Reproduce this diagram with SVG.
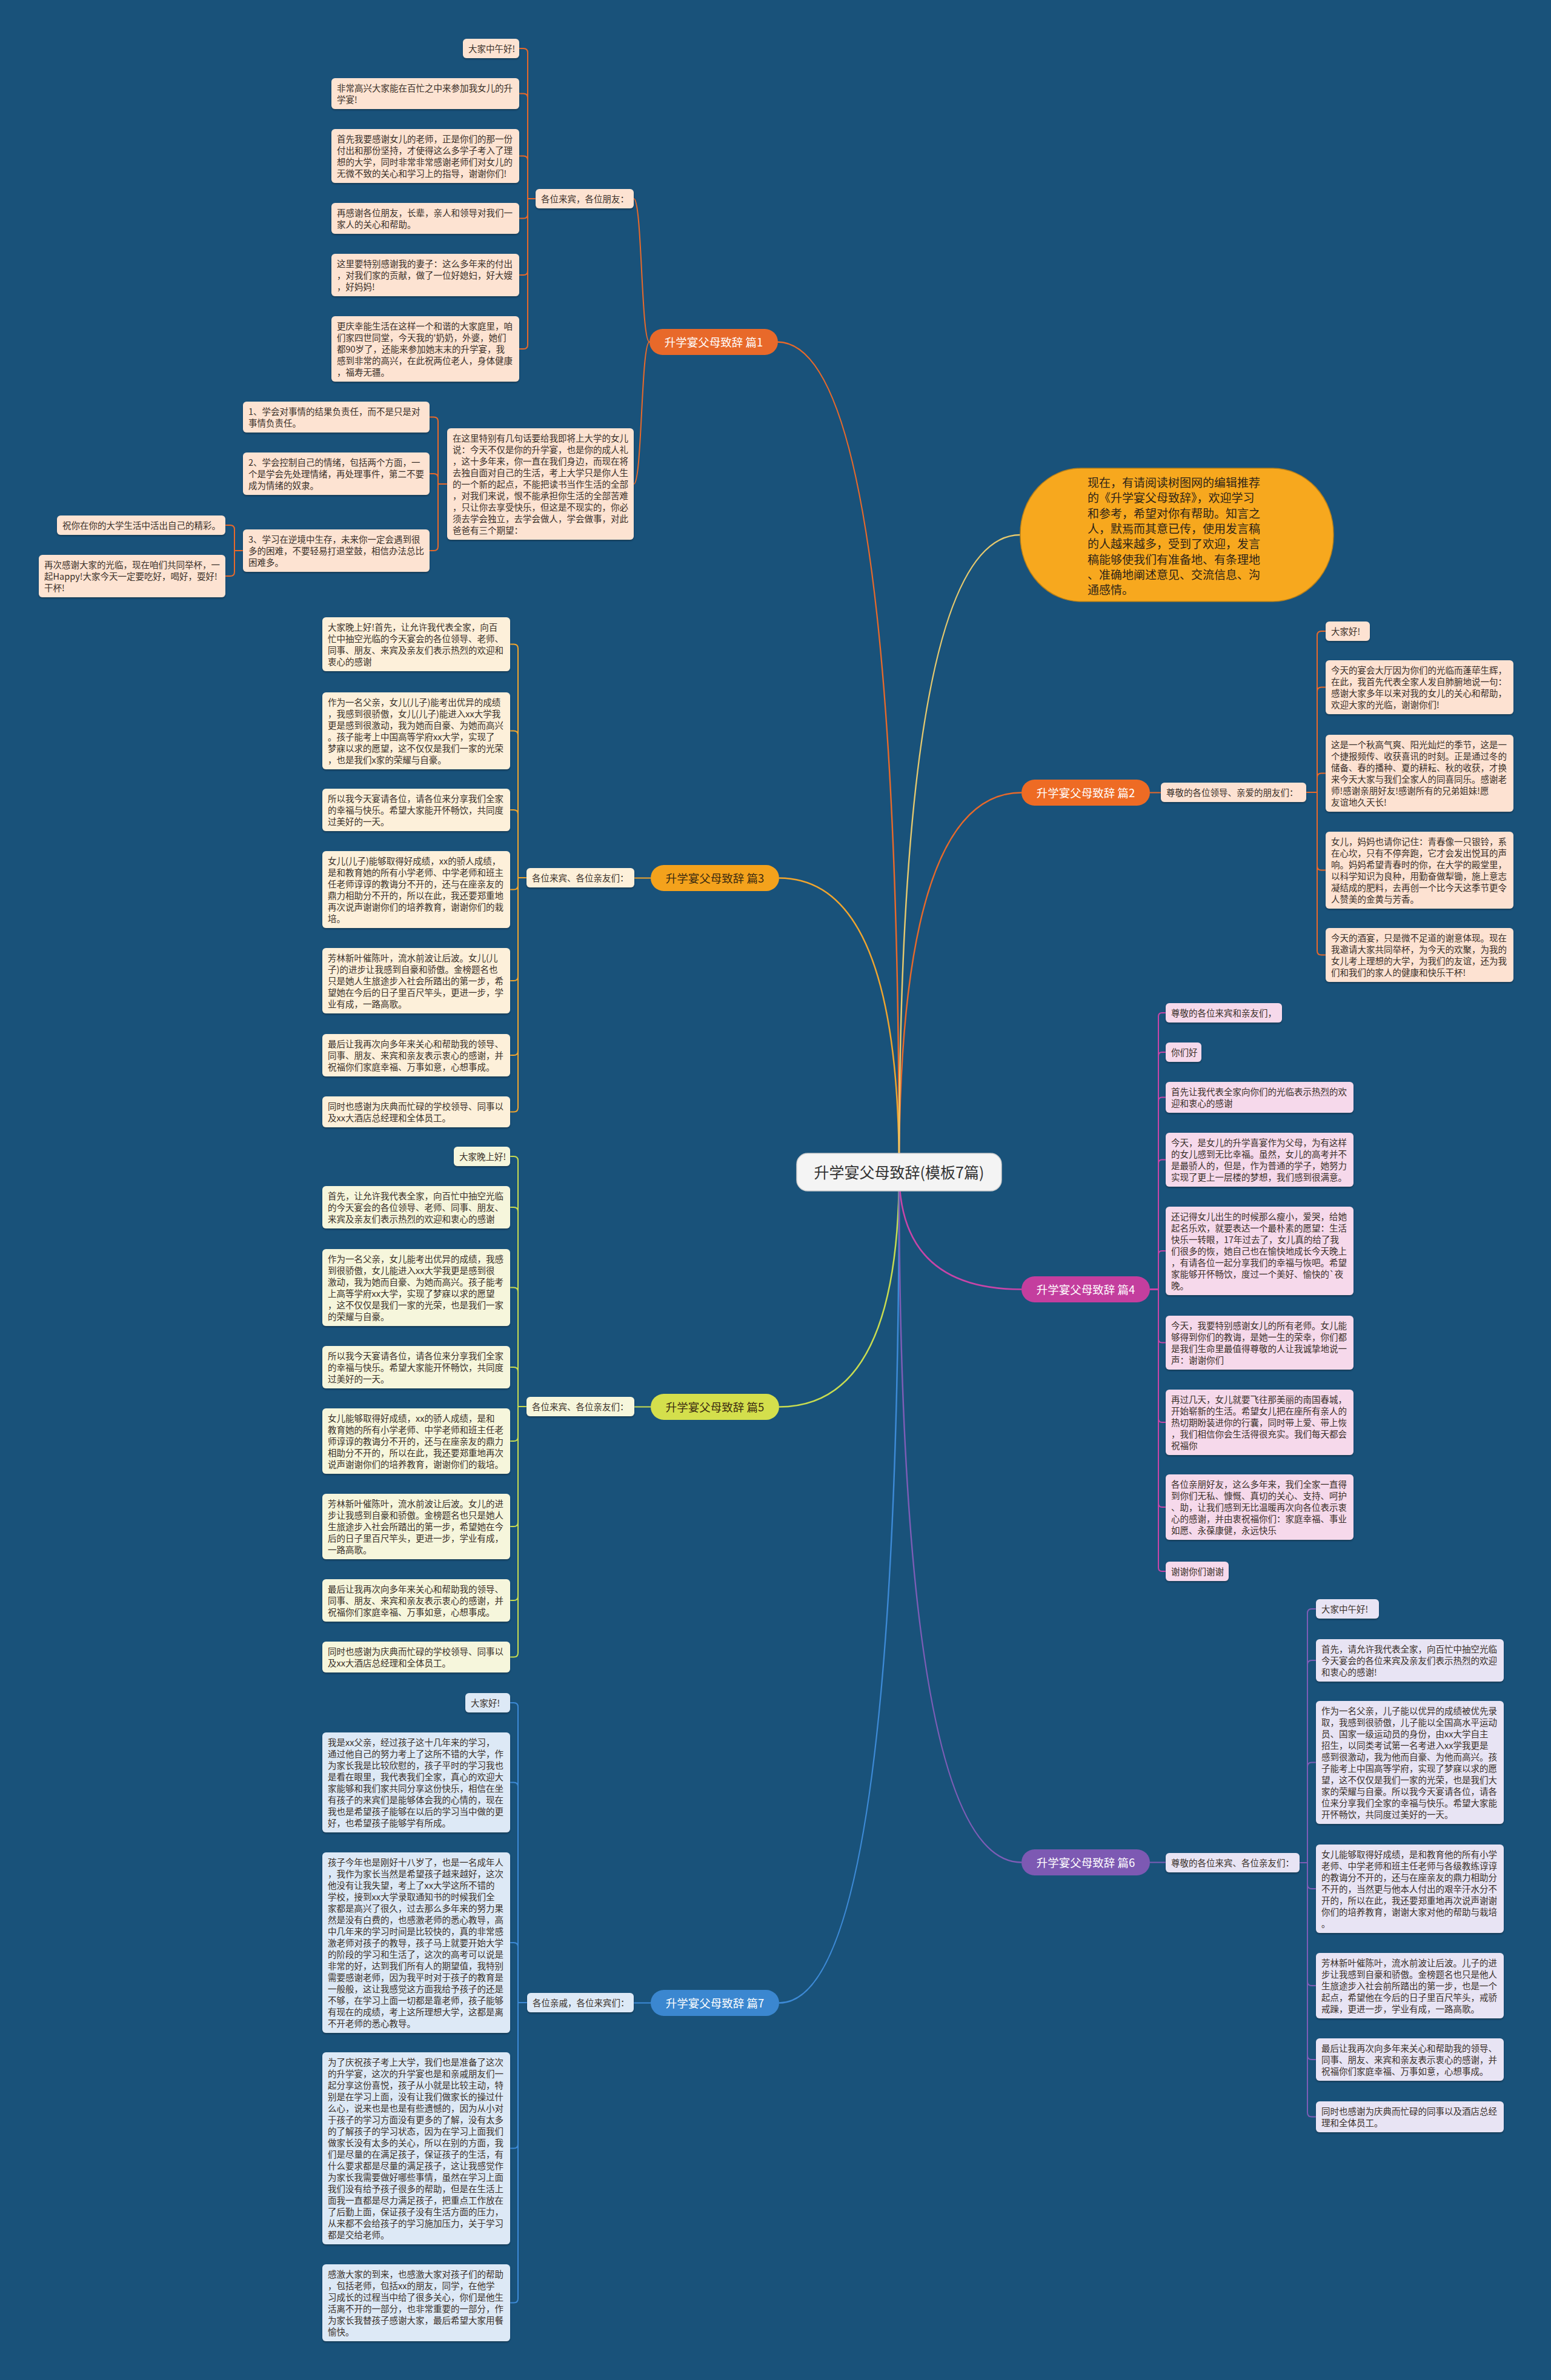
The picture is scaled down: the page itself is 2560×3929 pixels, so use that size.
<svg xmlns="http://www.w3.org/2000/svg" width="2560" height="3929" viewBox="0 0 2560 3929">
<defs>
<filter id="sh" x="-5%" y="-10%" width="110%" height="130%"><feDropShadow dx="0" dy="2" stdDeviation="1.2" flood-color="#0a2a40" flood-opacity="0.6"/></filter>
<style>
.t{font-family:"Noto Sans CJK SC","Liberation Sans",sans-serif;font-size:14.5px;fill:#3a3029}
.bt{font-family:"Noto Sans CJK SC","Liberation Sans",sans-serif;font-size:18.5px;text-anchor:middle}
.w{fill:#ffffff}.d{fill:#3a2a10}
rect.box{filter:url(#sh)}
.f1 rect{fill:#fde3d2}.f3 rect{fill:#fdf0da}.f5 rect{fill:#f6f6dc}.f7 rect{fill:#dde9f6}
.f2 rect{fill:#fde2d2}.f4 rect{fill:#f6d9eb}.f6 rect{fill:#e8e4f4}
#links path{fill:none;stroke-width:2}
#links .m{stroke-width:2.5}
.c1{stroke:#e8692a}.c3{stroke:#f0a52e}.c5{stroke:#c8dc50}.c7{stroke:#3d8ad6}
.c2{stroke:#e8692a}.c4{stroke:#c845a8}.c6{stroke:#7d5db6}.cb{stroke:#e6c96e}
</style>
</defs>
<rect x="0" y="0" width="2560" height="3929" fill="#19527a"/>

<g id="links">
<path class="m c1" d="M1484 1935Q1484 564.5 1283 564.5"/>
<path class="m c3" d="M1484 1935Q1484 1449.5 1286 1449.5"/>
<path class="m c5" d="M1484 1935Q1484 2322.5 1286 2322.5"/>
<path class="m c7" d="M1484 1935Q1484 3306.5 1286 3306.5"/>
<path class="m c2" d="M1484 1935Q1484 1308.5 1686 1308.5"/>
<path class="m c4" d="M1484 1935Q1484 2128.5 1686 2128.5"/>
<path class="m c6" d="M1484 1935Q1484 3074.5 1686 3074.5"/>
<path class="m cb" d="M1484 1935Q1484 883 1684 883"/>
<!-- branch 1 -->
<path class="c1" d="M1072 564.5C1058 564.5 1060 328 1046 328"/>
<path class="c1" d="M1072 564.5C1058 564.5 1060 799 1046 799"/>
<path class="c1" d="M884 328H871V87Q871 80 864 80H857"/>
<path class="c1" d="M884 328H871V161.5Q871 154.5 864 154.5H857"/>
<path class="c1" d="M884 328H871V264.5Q871 257.5 864 257.5H857"/>
<path class="c1" d="M884 328H871V353.5Q871 360.5 864 360.5H857"/>
<path class="c1" d="M884 328H871V447Q871 454 864 454H857"/>
<path class="c1" d="M884 328H871V569Q871 576 864 576H857"/>
<path class="c1" d="M738 799H723V695.5Q723 688.5 716 688.5H709"/>
<path class="c1" d="M738 799H723V789Q723 782 716 782H709"/>
<path class="c1" d="M738 799H723V902Q723 909 716 909H709"/>
<path class="c1" d="M401 909H387V874Q387 867 380 867H372"/>
<path class="c1" d="M401 909H387V944Q387 951 380 951H372"/>
<!-- branch 3 -->
<path class="c3" d="M1074 1449.5H1047"/>
<path class="c3" d="M869 1449H855V1070.5Q855 1063.5 848 1063.5H842"/>
<path class="c3" d="M869 1449H855V1213.5Q855 1206.5 848 1206.5H842"/>
<path class="c3" d="M869 1449H855V1344Q855 1337 848 1337H842"/>
<path class="c3" d="M869 1449H855V1461.5Q855 1468.5 848 1468.5H842"/>
<path class="c3" d="M869 1449H855V1612Q855 1619 848 1619H842"/>
<path class="c3" d="M869 1449H855V1735Q855 1742 848 1742H842"/>
<path class="c3" d="M869 1449H855V1828.5Q855 1835.5 848 1835.5H842"/>
<!-- branch 5 -->
<path class="c5" d="M1074 2322.5H1047"/>
<path class="c5" d="M869 2322H855V1916Q855 1909 848 1909H842"/>
<path class="c5" d="M869 2322H855V2000Q855 1993 848 1993H842"/>
<path class="c5" d="M869 2322H855V2132.5Q855 2125.5 848 2125.5H842"/>
<path class="c5" d="M869 2322H855V2264Q855 2257 848 2257H842"/>
<path class="c5" d="M869 2322H855V2372Q855 2379 848 2379H842"/>
<path class="c5" d="M869 2322H855V2513Q855 2520 848 2520H842"/>
<path class="c5" d="M869 2322H855V2635Q855 2642 848 2642H842"/>
<path class="c5" d="M869 2322H855V2728.5Q855 2735.5 848 2735.5H842"/>
<!-- branch 7 -->
<path class="c7" d="M1074 3306.5H1046"/>
<path class="c7" d="M870 3306H855V2818Q855 2811 848 2811H842"/>
<path class="c7" d="M870 3306H855V2949.5Q855 2942.5 848 2942.5H842"/>
<path class="c7" d="M870 3306H855V3214Q855 3207 848 3207H842"/>
<path class="c7" d="M870 3306H855V3539.5Q855 3546.5 848 3546.5H842"/>
<path class="c7" d="M870 3306H855V3794.5Q855 3801.5 848 3801.5H842"/>
<!-- branch 2 -->
<path class="c2" d="M1898 1308.5H1916"/>
<path class="c2" d="M2156 1308H2174V1049Q2174 1042 2181 1042H2188"/>
<path class="c2" d="M2156 1308H2174V1141.5Q2174 1134.5 2181 1134.5H2188"/>
<path class="c2" d="M2156 1308H2174V1283.5Q2174 1276.5 2181 1276.5H2188"/>
<path class="c2" d="M2156 1308H2174V1429.5Q2174 1436.5 2181 1436.5H2188"/>
<path class="c2" d="M2156 1308H2174V1569.5Q2174 1576.5 2181 1576.5H2188"/>
<!-- branch 4 -->
<path class="c4" d="M1898 2128.5H1912V1678Q1912 1672 1918 1672H1924"/>
<path class="c4" d="M1898 2128.5H1912V1743Q1912 1737 1918 1737H1924"/>
<path class="c4" d="M1898 2128.5H1912V1817.5Q1912 1811.5 1918 1811.5H1924"/>
<path class="c4" d="M1898 2128.5H1912V1920.5Q1912 1914.5 1918 1914.5H1924"/>
<path class="c4" d="M1898 2128.5H1912V2071Q1912 2065 1918 2065H1924"/>
<path class="c4" d="M1898 2128.5H1912V2210.5Q1912 2216.5 1918 2216.5H1924"/>
<path class="c4" d="M1898 2128.5H1912V2342Q1912 2348 1918 2348H1924"/>
<path class="c4" d="M1898 2128.5H1912V2482Q1912 2488 1918 2488H1924"/>
<path class="c4" d="M1898 2128.5H1912V2588Q1912 2594 1918 2594H1924"/>
<!-- branch 6 -->
<path class="c6" d="M1898 3074.5H1924"/>
<path class="c6" d="M2145 3075H2158V2663Q2158 2656 2165 2656H2172"/>
<path class="c6" d="M2145 3075H2158V2748Q2158 2741 2165 2741H2172"/>
<path class="c6" d="M2145 3075H2158V2916.5Q2158 2909.5 2165 2909.5H2172"/>
<path class="c6" d="M2145 3075H2158V3111Q2158 3118 2165 3118H2172"/>
<path class="c6" d="M2145 3075H2158V3271Q2158 3278 2165 3278H2172"/>
<path class="c6" d="M2145 3075H2158V3393Q2158 3400 2165 3400H2172"/>
<path class="c6" d="M2145 3075H2158V3487.5Q2158 3494.5 2165 3494.5H2172"/>
</g>

<g id="center">
<rect x="1315" y="1904" width="338" height="62" rx="18" fill="#f4f4f4" stroke="#cfcfcf" stroke-width="1.5"/>
<text x="1484" y="1944.5" text-anchor="middle" font-family="Noto Sans CJK SC, Liberation Sans, sans-serif" font-size="25" fill="#333">升学宴父母致辞(模板7篇)</text>
</g>

<g id="bubble">
<rect x="1684" y="773" width="517" height="220" rx="100" ry="108" fill="#f7a81e" stroke="#b8801a" stroke-width="1.5"/>
<text font-family="Noto Sans CJK SC, Liberation Sans, sans-serif" font-size="19" fill="#2e2418">
<tspan x="1795" y="804">现在，有请阅读树图网的编辑推荐</tspan>
<tspan x="1795" dy="25.3">的《升学宴父母致辞》，欢迎学习</tspan>
<tspan x="1795" dy="25.3">和参考，希望对你有帮助。知言之</tspan>
<tspan x="1795" dy="25.3">人，默焉而其意已传，使用发言稿</tspan>
<tspan x="1795" dy="25.3">的人越来越多，受到了欢迎，发言</tspan>
<tspan x="1795" dy="25.3">稿能够使我们有准备地、有条理地</tspan>
<tspan x="1795" dy="25.3">、准确地阐述意见、交流信息、沟</tspan>
<tspan x="1795" dy="25.3">通感情。</tspan>
</text>
</g>

<!-- ===== Branch 1 ===== -->
<g id="b1"><rect x="1072" y="543" width="212" height="43" rx="21.5" fill="#e8692a"/><text class="bt w" x="1178" y="571.5">升学宴父母致辞 篇1</text></g>
<g id="b1-s1" class="f1"><rect class="box" x="884" y="312" width="162" height="32" rx="6"/><text class="t" x="893" y="333.5">各位来宾，各位朋友：</text></g>
<g id="b1-a1" class="f1"><rect class="box" x="764" y="64" width="93" height="32" rx="6"/><text class="t" x="773" y="85.5">大家中午好!</text></g>
<g id="b1-a2" class="f1"><rect class="box" x="547" y="129" width="310" height="51" rx="6"/><text class="t" x="556" y="150.5"><tspan>非常高兴大家能在百忙之中来参加我女儿的升</tspan><tspan x="556" dy="19">学宴!</tspan></text></g>
<g id="b1-a3" class="f1"><rect class="box" x="547" y="213" width="310" height="89" rx="6"/><text class="t" x="556" y="234.5"><tspan>首先我要感谢女儿的老师，正是你们的那一份</tspan><tspan x="556" dy="19">付出和那份坚持，才使得这么多学子考入了理</tspan><tspan x="556" dy="19">想的大学，同时非常非常感谢老师们对女儿的</tspan><tspan x="556" dy="19">无微不致的关心和学习上的指导，谢谢你们!</tspan></text></g>
<g id="b1-a4" class="f1"><rect class="box" x="547" y="335" width="310" height="51" rx="6"/><text class="t" x="556" y="356.5"><tspan>再感谢各位朋友，长辈，亲人和领导对我们一</tspan><tspan x="556" dy="19">家人的关心和帮助。</tspan></text></g>
<g id="b1-a5" class="f1"><rect class="box" x="547" y="419" width="310" height="70" rx="6"/><text class="t" x="556" y="440.5"><tspan>这里要特别感谢我的妻子：这么多年来的付出</tspan><tspan x="556" dy="19">，对我们家的贡献，做了一位好媳妇，好大嫂</tspan><tspan x="556" dy="19">，好妈妈!</tspan></text></g>
<g id="b1-a6" class="f1"><rect class="box" x="547" y="522" width="310" height="108" rx="6"/><text class="t" x="556" y="543.5"><tspan>更庆幸能生活在这样一个和谐的大家庭里，咱</tspan><tspan x="556" dy="19">们家四世同堂，今天我的'奶奶，外婆，她们</tspan><tspan x="556" dy="19">都90岁了，还能来参加她末末的升学宴，我</tspan><tspan x="556" dy="19">感到非常的高兴，在此祝两位老人，身体健康</tspan><tspan x="556" dy="19">，福寿无疆。</tspan></text></g>
<g id="b1-s2" class="f1"><rect class="box" x="738" y="707" width="308" height="184" rx="6"/><text class="t" x="747" y="728.5"><tspan>在这里特别有几句话要给我即将上大学的女儿</tspan><tspan x="747" dy="19">说：今天不仅是你的升学宴，也是你的成人礼</tspan><tspan x="747" dy="19">，这十多年来，你一直在我们身边，而现在将</tspan><tspan x="747" dy="19">去独自面对自己的生活，考上大学只是你人生</tspan><tspan x="747" dy="19">的一个新的起点，不能把读书当作生活的全部</tspan><tspan x="747" dy="19">，对我们来说，恨不能承担你生活的全部苦难</tspan><tspan x="747" dy="19">，只让你去享受快乐，但这是不现实的，你必</tspan><tspan x="747" dy="19">须去学会独立，去学会做人，学会做事，对此</tspan><tspan x="747" dy="19">爸爸有三个期望：</tspan></text></g>
<g id="b1-b1" class="f1"><rect class="box" x="401" y="663" width="308" height="51" rx="6"/><text class="t" x="410" y="684.5"><tspan>1、学会对事情的结果负责任，而不是只是对</tspan><tspan x="410" dy="19">事情负责任。</tspan></text></g>
<g id="b1-b2" class="f1"><rect class="box" x="401" y="747" width="308" height="70" rx="6"/><text class="t" x="410" y="768.5"><tspan>2、学会控制自己的情绪，包括两个方面，一</tspan><tspan x="410" dy="19">个是学会先处理情绪，再处理事件，第二不要</tspan><tspan x="410" dy="19">成为情绪的奴隶。</tspan></text></g>
<g id="b1-b3" class="f1"><rect class="box" x="401" y="874" width="308" height="70" rx="6"/><text class="t" x="410" y="895.5"><tspan>3、学习在逆境中生存，未来你一定会遇到很</tspan><tspan x="410" dy="19">多的困难，不要轻易打退堂鼓，相信办法总比</tspan><tspan x="410" dy="19">困难多。</tspan></text></g>
<g id="b1-c1" class="f1"><rect class="box" x="94" y="851" width="278" height="32" rx="6"/><text class="t" x="103" y="872.5">祝你在你的大学生活中活出自己的精彩。</text></g>
<g id="b1-c2" class="f1"><rect class="box" x="64" y="916" width="308" height="70" rx="6"/><text class="t" x="73" y="937.5"><tspan>再次感谢大家的光临，现在咱们共同举杯，一</tspan><tspan x="73" dy="19">起Happy!大家今天一定要吃好，喝好，耍好!</tspan><tspan x="73" dy="19">干杯!</tspan></text></g>

<!-- ===== Branch 3 ===== -->
<g id="b3"><rect x="1074" y="1428" width="212" height="43" rx="21.5" fill="#f4a21c"/><text class="bt d" x="1180" y="1456.5">升学宴父母致辞 篇3</text></g>
<g id="b3-s" class="f3"><rect class="box" x="869" y="1433" width="178" height="32" rx="6"/><text class="t" x="878" y="1454.5">各位来宾、各位亲友们：</text></g>
<g id="b3-1" class="f3"><rect class="box" x="532" y="1019" width="310" height="89" rx="6"/><text class="t" x="541" y="1040.5"><tspan>大家晚上好!首先，让允许我代表全家，向百</tspan><tspan x="541" dy="19">忙中抽空光临的今天宴会的各位领导、老师、</tspan><tspan x="541" dy="19">同事、朋友、来宾及亲友们表示热烈的欢迎和</tspan><tspan x="541" dy="19">衷心的感谢</tspan></text></g>
<g id="b3-2" class="f3"><rect class="box" x="532" y="1143" width="310" height="127" rx="6"/><text class="t" x="541" y="1164.5"><tspan>作为一名父亲，女儿(儿子)能考出优异的成绩</tspan><tspan x="541" dy="19">，我感到很骄傲，女儿(儿子)能进入xx大学我</tspan><tspan x="541" dy="19">更是感到很激动，我为她而自豪、为她而高兴</tspan><tspan x="541" dy="19">。孩子能考上中国高等学府xx大学，实现了</tspan><tspan x="541" dy="19">梦寐以求的愿望，这不仅仅是我们一家的光荣</tspan><tspan x="541" dy="19">，也是我们x家的荣耀与自豪。</tspan></text></g>
<g id="b3-3" class="f3"><rect class="box" x="532" y="1302" width="310" height="70" rx="6"/><text class="t" x="541" y="1323.5"><tspan>所以我今天宴请各位，请各位来分享我们全家</tspan><tspan x="541" dy="19">的幸福与快乐。希望大家能开怀畅饮，共同度</tspan><tspan x="541" dy="19">过美好的一天。</tspan></text></g>
<g id="b3-4" class="f3"><rect class="box" x="532" y="1405" width="310" height="127" rx="6"/><text class="t" x="541" y="1426.5"><tspan>女儿(儿子)能够取得好成绩，xx的骄人成绩，</tspan><tspan x="541" dy="19">是和教育她的所有小学老师、中学老师和班主</tspan><tspan x="541" dy="19">任老师谆谆的教诲分不开的，还与在座亲友的</tspan><tspan x="541" dy="19">鼎力相助分不开的，所以在此，我还要郑重地</tspan><tspan x="541" dy="19">再次说声谢谢你们的培养教育，谢谢你们的栽</tspan><tspan x="541" dy="19">培。</tspan></text></g>
<g id="b3-5" class="f3"><rect class="box" x="532" y="1565" width="310" height="108" rx="6"/><text class="t" x="541" y="1586.5"><tspan>芳林新叶催陈叶，流水前波让后波。女儿(儿</tspan><tspan x="541" dy="19">子)的进步让我感到自豪和骄傲。金榜题名也</tspan><tspan x="541" dy="19">只是她人生旅途步入社会所踏出的第一步，希</tspan><tspan x="541" dy="19">望她在今后的日子里百尺竿头，更进一步，学</tspan><tspan x="541" dy="19">业有成，一路高歌。</tspan></text></g>
<g id="b3-6" class="f3"><rect class="box" x="532" y="1707" width="310" height="70" rx="6"/><text class="t" x="541" y="1728.5"><tspan>最后让我再次向多年来关心和帮助我的领导、</tspan><tspan x="541" dy="19">同事、朋友、来宾和亲友表示衷心的感谢，并</tspan><tspan x="541" dy="19">祝福你们家庭幸福、万事如意，心想事成。</tspan></text></g>
<g id="b3-7" class="f3"><rect class="box" x="532" y="1810" width="310" height="51" rx="6"/><text class="t" x="541" y="1831.5"><tspan>同时也感谢为庆典而忙碌的学校领导、同事以</tspan><tspan x="541" dy="19">及xx大酒店总经理和全体员工。</tspan></text></g>

<!-- ===== Branch 5 ===== -->
<g id="b5"><rect x="1074" y="2301" width="212" height="43" rx="21.5" fill="#d4df4c"/><text class="bt d" x="1180" y="2329.5">升学宴父母致辞 篇5</text></g>
<g id="b5-s" class="f5"><rect class="box" x="869" y="2306" width="178" height="32" rx="6"/><text class="t" x="878" y="2327.5">各位来宾、各位亲友们：</text></g>
<g id="b5-1" class="f5"><rect class="box" x="749" y="1893" width="93" height="32" rx="6"/><text class="t" x="758" y="1914.5">大家晚上好!</text></g>
<g id="b5-2" class="f5"><rect class="box" x="532" y="1958" width="310" height="70" rx="6"/><text class="t" x="541" y="1979.5"><tspan>首先，让允许我代表全家，向百忙中抽空光临</tspan><tspan x="541" dy="19">的今天宴会的各位领导、老师、同事、朋友、</tspan><tspan x="541" dy="19">来宾及亲友们表示热烈的欢迎和衷心的感谢</tspan></text></g>
<g id="b5-3" class="f5"><rect class="box" x="532" y="2062" width="310" height="127" rx="6"/><text class="t" x="541" y="2083.5"><tspan>作为一名父亲，女儿能考出优异的成绩，我感</tspan><tspan x="541" dy="19">到很骄傲，女儿能进入xx大学我更是感到很</tspan><tspan x="541" dy="19">激动，我为她而自豪、为她而高兴。孩子能考</tspan><tspan x="541" dy="19">上高等学府xx大学，实现了梦寐以求的愿望</tspan><tspan x="541" dy="19">，这不仅仅是我们一家的光荣，也是我们一家</tspan><tspan x="541" dy="19">的荣耀与自豪。</tspan></text></g>
<g id="b5-4" class="f5"><rect class="box" x="532" y="2222" width="310" height="70" rx="6"/><text class="t" x="541" y="2243.5"><tspan>所以我今天宴请各位，请各位来分享我们全家</tspan><tspan x="541" dy="19">的幸福与快乐。希望大家能开怀畅饮，共同度</tspan><tspan x="541" dy="19">过美好的一天。</tspan></text></g>
<g id="b5-5" class="f5"><rect class="box" x="532" y="2325" width="310" height="108" rx="6"/><text class="t" x="541" y="2346.5"><tspan>女儿能够取得好成绩，xx的骄人成绩，是和</tspan><tspan x="541" dy="19">教育她的所有小学老师、中学老师和班主任老</tspan><tspan x="541" dy="19">师谆谆的教诲分不开的，还与在座亲友的鼎力</tspan><tspan x="541" dy="19">相助分不开的，所以在此，我还要郑重地再次</tspan><tspan x="541" dy="19">说声谢谢你们的培养教育，谢谢你们的栽培。</tspan></text></g>
<g id="b5-6" class="f5"><rect class="box" x="532" y="2466" width="310" height="108" rx="6"/><text class="t" x="541" y="2487.5"><tspan>芳林新叶催陈叶，流水前波让后波。女儿的进</tspan><tspan x="541" dy="19">步让我感到自豪和骄傲。金榜题名也只是她人</tspan><tspan x="541" dy="19">生旅途步入社会所踏出的第一步，希望她在今</tspan><tspan x="541" dy="19">后的日子里百尺竿头，更进一步，学业有成，</tspan><tspan x="541" dy="19">一路高歌。</tspan></text></g>
<g id="b5-7" class="f5"><rect class="box" x="532" y="2607" width="310" height="70" rx="6"/><text class="t" x="541" y="2628.5"><tspan>最后让我再次向多年来关心和帮助我的领导、</tspan><tspan x="541" dy="19">同事、朋友、来宾和亲友表示衷心的感谢，并</tspan><tspan x="541" dy="19">祝福你们家庭幸福、万事如意，心想事成。</tspan></text></g>
<g id="b5-8" class="f5"><rect class="box" x="532" y="2710" width="310" height="51" rx="6"/><text class="t" x="541" y="2731.5"><tspan>同时也感谢为庆典而忙碌的学校领导、同事以</tspan><tspan x="541" dy="19">及xx大酒店总经理和全体员工。</tspan></text></g>

<!-- ===== Branch 7 ===== -->
<g id="b7"><rect x="1074" y="3285" width="212" height="43" rx="21.5" fill="#3b87d0"/><text class="bt w" x="1180" y="3313.5">升学宴父母致辞 篇7</text></g>
<g id="b7-s" class="f7"><rect class="box" x="870" y="3290" width="176" height="32" rx="6"/><text class="t" x="879" y="3311.5">各位亲戚，各位来宾们：</text></g>
<g id="b7-1" class="f7"><rect class="box" x="768" y="2795" width="74" height="32" rx="6"/><text class="t" x="777" y="2816.5">大家好!</text></g>
<g id="b7-2" class="f7"><rect class="box" x="532" y="2860" width="310" height="165" rx="6"/><text class="t" x="541" y="2881.5"><tspan>我是xx父亲，经过孩子这十几年来的学习，</tspan><tspan x="541" dy="19">通过他自己的努力考上了这所不错的大学，作</tspan><tspan x="541" dy="19">为家长我是比较欣慰的，孩子平时的学习我也</tspan><tspan x="541" dy="19">是看在眼里，我代表我们全家，真心的欢迎大</tspan><tspan x="541" dy="19">家能够和我们家共同分享这份快乐，相信在坐</tspan><tspan x="541" dy="19">有孩子的来宾们是能够体会我的心情的，现在</tspan><tspan x="541" dy="19">我也是希望孩子能够在以后的学习当中做的更</tspan><tspan x="541" dy="19">好，也希望孩子能够学有所成。</tspan></text></g>
<g id="b7-3" class="f7"><rect class="box" x="532" y="3058" width="310" height="298" rx="6"/><text class="t" x="541" y="3079.5"><tspan>孩子今年也是刚好十八岁了，也是一名成年人</tspan><tspan x="541" dy="19">，我作为家长当然是希望孩子越来越好，这次</tspan><tspan x="541" dy="19">他没有让我失望，考上了xx大学这所不错的</tspan><tspan x="541" dy="19">学校，接到xx大学录取通知书的时候我们全</tspan><tspan x="541" dy="19">家都是高兴了很久，过去那么多年来的努力果</tspan><tspan x="541" dy="19">然是没有白费的，也感激老师的悉心教导，高</tspan><tspan x="541" dy="19">中几年来的学习时间是比较快的，真的非常感</tspan><tspan x="541" dy="19">激老师对孩子的教导，孩子马上就要开始大学</tspan><tspan x="541" dy="19">的阶段的学习和生活了，这次的高考可以说是</tspan><tspan x="541" dy="19">非常的好，达到我们所有人的期望值，我特别</tspan><tspan x="541" dy="19">需要感谢老师，因为我平时对于孩子的教育是</tspan><tspan x="541" dy="19">一般般，这让我感觉这方面我给予孩子的还是</tspan><tspan x="541" dy="19">不够，在学习上面一切都是靠老师，孩子能够</tspan><tspan x="541" dy="19">有现在的成绩，考上这所理想大学，这都是离</tspan><tspan x="541" dy="19">不开老师的悉心教导。</tspan></text></g>
<g id="b7-4" class="f7"><rect class="box" x="532" y="3388" width="310" height="317" rx="6"/><text class="t" x="541" y="3409.5"><tspan>为了庆祝孩子考上大学，我们也是准备了这次</tspan><tspan x="541" dy="19">的升学宴，这次的升学宴也是和亲戚朋友们一</tspan><tspan x="541" dy="19">起分享这份喜悦，孩子从小就是比较主动，特</tspan><tspan x="541" dy="19">别是在学习上面，没有让我们做家长的操过什</tspan><tspan x="541" dy="19">么心，说来也是也是有些遗憾的，因为从小对</tspan><tspan x="541" dy="19">于孩子的学习方面没有更多的了解，没有太多</tspan><tspan x="541" dy="19">的了解孩子的学习状态，因为在学习上面我们</tspan><tspan x="541" dy="19">做家长没有太多的关心，所以在别的方面，我</tspan><tspan x="541" dy="19">们是尽量的在满足孩子，保证孩子的生活，有</tspan><tspan x="541" dy="19">什么要求都是尽量的满足孩子，这让我感觉作</tspan><tspan x="541" dy="19">为家长我需要做好哪些事情，虽然在学习上面</tspan><tspan x="541" dy="19">我们没有给予孩子很多的帮助，但是在生活上</tspan><tspan x="541" dy="19">面我一直都是尽力满足孩子，把重点工作放在</tspan><tspan x="541" dy="19">了后勤上面，保证孩子没有生活方面的压力，</tspan><tspan x="541" dy="19">从来都不会给孩子的学习施加压力，关于学习</tspan><tspan x="541" dy="19">都是交给老师。</tspan></text></g>
<g id="b7-5" class="f7"><rect class="box" x="532" y="3738" width="310" height="127" rx="6"/><text class="t" x="541" y="3759.5"><tspan>感激大家的到来，也感激大家对孩子们的帮助</tspan><tspan x="541" dy="19">，包括老师，包括xx的朋友，同学，在他学</tspan><tspan x="541" dy="19">习成长的过程当中给了很多关心，你们是他生</tspan><tspan x="541" dy="19">活离不开的一部分，也非常重要的一部分，作</tspan><tspan x="541" dy="19">为家长我替孩子感谢大家，最后希望大家用餐</tspan><tspan x="541" dy="19">愉快。</tspan></text></g>

<!-- ===== Branch 2 ===== -->
<g id="b2"><rect x="1686" y="1287" width="212" height="43" rx="21.5" fill="#ee6b24"/><text class="bt w" x="1792" y="1315.5">升学宴父母致辞 篇2</text></g>
<g id="b2-s" class="f2"><rect class="box" x="1916" y="1292" width="240" height="32" rx="6"/><text class="t" x="1925" y="1313.5">尊敬的各位领导、亲爱的朋友们：</text></g>
<g id="b2-1" class="f2"><rect class="box" x="2188" y="1026" width="73" height="32" rx="6"/><text class="t" x="2197" y="1047.5">大家好!</text></g>
<g id="b2-2" class="f2"><rect class="box" x="2188" y="1090" width="310" height="89" rx="6"/><text class="t" x="2197" y="1111.5"><tspan>今天的宴会大厅因为你们的光临而蓬荜生辉，</tspan><tspan x="2197" dy="19">在此，我首先代表全家人发自肺腑地说一句：</tspan><tspan x="2197" dy="19">感谢大家多年以来对我的女儿的关心和帮助，</tspan><tspan x="2197" dy="19">欢迎大家的光临，谢谢你们!</tspan></text></g>
<g id="b2-3" class="f2"><rect class="box" x="2188" y="1213" width="310" height="127" rx="6"/><text class="t" x="2197" y="1234.5"><tspan>这是一个秋高气爽、阳光灿烂的季节，这是一</tspan><tspan x="2197" dy="19">个捷报频传、收获喜讯的时刻。正是通过冬的</tspan><tspan x="2197" dy="19">储备、春的播种、夏的耕耘、秋的收获，才换</tspan><tspan x="2197" dy="19">来今天大家与我们全家人的同喜同乐。感谢老</tspan><tspan x="2197" dy="19">师!感谢亲朋好友!感谢所有的兄弟姐妹!愿</tspan><tspan x="2197" dy="19">友谊地久天长!</tspan></text></g>
<g id="b2-4" class="f2"><rect class="box" x="2188" y="1373" width="310" height="127" rx="6"/><text class="t" x="2197" y="1394.5"><tspan>女儿，妈妈也请你记住：青春像一只银铃，系</tspan><tspan x="2197" dy="19">在心坎，只有不停奔跑，它才会发出悦耳的声</tspan><tspan x="2197" dy="19">响。妈妈希望青春时的你，在大学的殿堂里，</tspan><tspan x="2197" dy="19">以科学知识为良种，用勤奋做犁锄，施上意志</tspan><tspan x="2197" dy="19">凝结成的肥料，去再创一个比今天这季节更令</tspan><tspan x="2197" dy="19">人赞美的金黄与芳香。</tspan></text></g>
<g id="b2-5" class="f2"><rect class="box" x="2188" y="1532" width="310" height="89" rx="6"/><text class="t" x="2197" y="1553.5"><tspan>今天的酒宴，只是微不足道的谢意体现。现在</tspan><tspan x="2197" dy="19">我邀请大家共同举杯，为今天的欢聚，为我的</tspan><tspan x="2197" dy="19">女儿考上理想的大学，为我们的友谊，还为我</tspan><tspan x="2197" dy="19">们和我们的家人的健康和快乐干杯!</tspan></text></g>

<!-- ===== Branch 4 ===== -->
<g id="b4"><rect x="1686" y="2107" width="212" height="43" rx="21.5" fill="#c43e9e"/><text class="bt w" x="1792" y="2135.5">升学宴父母致辞 篇4</text></g>
<g id="b4-1" class="f4"><rect class="box" x="1924" y="1656" width="192" height="32" rx="6"/><text class="t" x="1933" y="1677.5">尊敬的各位来宾和亲友们，</text></g>
<g id="b4-2" class="f4"><rect class="box" x="1924" y="1721" width="59" height="32" rx="6"/><text class="t" x="1933" y="1742.5">你们好</text></g>
<g id="b4-3" class="f4"><rect class="box" x="1924" y="1786" width="310" height="51" rx="6"/><text class="t" x="1933" y="1807.5"><tspan>首先让我代表全家向你们的光临表示热烈的欢</tspan><tspan x="1933" dy="19">迎和衷心的感谢</tspan></text></g>
<g id="b4-4" class="f4"><rect class="box" x="1924" y="1870" width="310" height="89" rx="6"/><text class="t" x="1933" y="1891.5"><tspan>今天，是女儿的升学喜宴作为父母，为有这样</tspan><tspan x="1933" dy="19">的女儿感到无比幸福。虽然，女儿的高考并不</tspan><tspan x="1933" dy="19">是最骄人的，但是，作为普通的学子，她努力</tspan><tspan x="1933" dy="19">实现了更上一层楼的梦想，我们感到很满意。</tspan></text></g>
<g id="b4-5" class="f4"><rect class="box" x="1924" y="1992" width="310" height="146" rx="6"/><text class="t" x="1933" y="2013.5"><tspan>还记得女儿出生的时候那么瘦小，爱哭，给她</tspan><tspan x="1933" dy="19">起名乐欢，就要表达一个最朴素的愿望：生活</tspan><tspan x="1933" dy="19">快乐一转眼，17年过去了，女儿真的给了我</tspan><tspan x="1933" dy="19">们很多的恢，她自己也在愉快地成长今天晚上</tspan><tspan x="1933" dy="19">，有请各位一起分享我们的幸福与恢吧。希望</tspan><tspan x="1933" dy="19">家能够开怀畅饮，度过一个美好、愉快的`夜</tspan><tspan x="1933" dy="19">晚。</tspan></text></g>
<g id="b4-6" class="f4"><rect class="box" x="1924" y="2172" width="310" height="89" rx="6"/><text class="t" x="1933" y="2193.5"><tspan>今天，我要特别感谢女儿的所有老师。女儿能</tspan><tspan x="1933" dy="19">够得到你们的教诲，是她一生的荣幸，你们都</tspan><tspan x="1933" dy="19">是我们生命里最值得尊敬的人让我诚挚地说一</tspan><tspan x="1933" dy="19">声：谢谢你们</tspan></text></g>
<g id="b4-7" class="f4"><rect class="box" x="1924" y="2294" width="310" height="108" rx="6"/><text class="t" x="1933" y="2315.5"><tspan>再过几天，女儿就要飞往那美丽的南国春城，</tspan><tspan x="1933" dy="19">开始崭新的生活。希望女儿把在座所有亲人的</tspan><tspan x="1933" dy="19">热切期盼装进你的行囊，同时带上爱、带上恢</tspan><tspan x="1933" dy="19">，我们相信你会生活得很充实。我们每天都会</tspan><tspan x="1933" dy="19">祝福你</tspan></text></g>
<g id="b4-8" class="f4"><rect class="box" x="1924" y="2434" width="310" height="108" rx="6"/><text class="t" x="1933" y="2455.5"><tspan>各位亲朋好友，这么多年来，我们全家一直得</tspan><tspan x="1933" dy="19">到你们无私、慷慨、真切的关心、支持、呵护</tspan><tspan x="1933" dy="19">、助，让我们感到无比温暖再次向各位表示衷</tspan><tspan x="1933" dy="19">心的感谢，并由衷祝福你们：家庭幸福、事业</tspan><tspan x="1933" dy="19">如愿、永葆康健，永远快乐</tspan></text></g>
<g id="b4-9" class="f4"><rect class="box" x="1924" y="2578" width="104" height="32" rx="6"/><text class="t" x="1933" y="2599.5">谢谢你们谢谢</text></g>

<!-- ===== Branch 6 ===== -->
<g id="b6"><rect x="1686" y="3053" width="212" height="43" rx="21.5" fill="#7d59b3"/><text class="bt w" x="1792" y="3081.5">升学宴父母致辞 篇6</text></g>
<g id="b6-s" class="f6"><rect class="box" x="1924" y="3059" width="221" height="32" rx="6"/><text class="t" x="1933" y="3080.5">尊敬的各位来宾、各位亲友们：</text></g>
<g id="b6-1" class="f6"><rect class="box" x="2172" y="2640" width="104" height="32" rx="6"/><text class="t" x="2181" y="2661.5">大家中午好!</text></g>
<g id="b6-2" class="f6"><rect class="box" x="2172" y="2706" width="310" height="70" rx="6"/><text class="t" x="2181" y="2727.5"><tspan>首先，请允许我代表全家，向百忙中抽空光临</tspan><tspan x="2181" dy="19">今天宴会的各位来宾及亲友们表示热烈的欢迎</tspan><tspan x="2181" dy="19">和衷心的感谢!</tspan></text></g>
<g id="b6-3" class="f6"><rect class="box" x="2172" y="2808" width="310" height="203" rx="6"/><text class="t" x="2181" y="2829.5"><tspan>作为一名父亲，儿子能以优异的成绩被优先录</tspan><tspan x="2181" dy="19">取，我感到很骄傲，儿子能以全国高水平运动</tspan><tspan x="2181" dy="19">员、国家一级运动员的身份，由xx大学自主</tspan><tspan x="2181" dy="19">招生，以同类考试第一名考进入xx学我更是</tspan><tspan x="2181" dy="19">感到很激动，我为他而自豪、为他而高兴。孩</tspan><tspan x="2181" dy="19">子能考上中国高等学府，实现了梦寐以求的愿</tspan><tspan x="2181" dy="19">望，这不仅仅是我们一家的光荣，也是我们大</tspan><tspan x="2181" dy="19">家的荣耀与自豪。所以我今天宴请各位，请各</tspan><tspan x="2181" dy="19">位来分享我们全家的幸福与快乐。希望大家能</tspan><tspan x="2181" dy="19">开怀畅饮，共同度过美好的一天。</tspan></text></g>
<g id="b6-4" class="f6"><rect class="box" x="2172" y="3045" width="310" height="146" rx="6"/><text class="t" x="2181" y="3066.5"><tspan>女儿能够取得好成绩，是和教育他的所有小学</tspan><tspan x="2181" dy="19">老师、中学老师和班主任老师与各级教练谆谆</tspan><tspan x="2181" dy="19">的教诲分不开的，还与在座亲友的鼎力相助分</tspan><tspan x="2181" dy="19">不开的，当然更与他本人付出的艰辛汗水分不</tspan><tspan x="2181" dy="19">开的，所以在此，我还要郑重地再次说声谢谢</tspan><tspan x="2181" dy="19">你们的培养教育，谢谢大家对他的帮助与栽培</tspan><tspan x="2181" dy="19">。</tspan></text></g>
<g id="b6-5" class="f6"><rect class="box" x="2172" y="3224" width="310" height="108" rx="6"/><text class="t" x="2181" y="3245.5"><tspan>芳林新叶催陈叶，流水前波让后波。儿子的进</tspan><tspan x="2181" dy="19">步让我感到自豪和骄傲。金榜题名也只是他人</tspan><tspan x="2181" dy="19">生旅途步入社会前所踏出的第一步，也是一个</tspan><tspan x="2181" dy="19">起点，希望他在今后的日子里百尺竿头，戒骄</tspan><tspan x="2181" dy="19">戒躁，更进一步，学业有成，一路高歌。</tspan></text></g>
<g id="b6-6" class="f6"><rect class="box" x="2172" y="3365" width="310" height="70" rx="6"/><text class="t" x="2181" y="3386.5"><tspan>最后让我再次向多年来关心和帮助我的领导、</tspan><tspan x="2181" dy="19">同事、朋友、来宾和亲友表示衷心的感谢，并</tspan><tspan x="2181" dy="19">祝福你们家庭幸福、万事如意，心想事成。</tspan></text></g>
<g id="b6-7" class="f6"><rect class="box" x="2172" y="3469" width="310" height="51" rx="6"/><text class="t" x="2181" y="3490.5"><tspan>同时也感谢为庆典而忙碌的同事以及酒店总经</tspan><tspan x="2181" dy="19">理和全体员工。</tspan></text></g>
</svg>
